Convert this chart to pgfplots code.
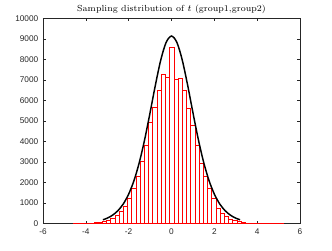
\documentclass[border=0pt]{standalone}
\usepackage{pgfplots}
\pgfplotsset{compat=1.18}
\usepackage{fontspec}
\newfontfamily\arialfont{Liberation Sans}
\definecolor{axgray}{gray}{0.15}
\begin{document}
\begin{tikzpicture}
\begin{axis}[
  name=ax,
  scale only axis,
  width=192.75pt, height=153.75pt,
  xmin=-6, xmax=6, ymin=0, ymax=10000,
  xtick={-6,-4,...,6},
  ytick={0,1000,...,10000},
  tick align=inside,
  major tick length=2pt,
  axis line style={axgray, line width=0.4pt},
  tick style={axgray, line width=0.4pt},
  every tick label/.append style={text=axgray},
  ticklabel style={font=\arialfont\fontsize{6.2}{7}\selectfont},
  /pgf/number format/assume math mode=true,
  /pgf/number format/set thousands separator={},
  scaled y ticks=false,
  xticklabel style={yshift=0pt},
  title={Sampling distribution of $t$ (group1,group2)},
  title style={font=\fontsize{6.6}{8}\selectfont, yshift=-5.5pt},
]
\addplot[ybar interval, draw=red, fill=white, line width=0.4pt] coordinates {
(-4.603,5) (-4.406,8) (-4.210,12) (-4.014,20) (-3.818,30) (-3.622,45)
(-3.425,60) (-3.229,100) (-3.033,180) (-2.837,260) (-2.641,400) (-2.444,585)
(-2.248,850) (-2.052,1235) (-1.856,1720) (-1.660,2290) (-1.463,3060) (-1.267,3840)
(-1.071,4930) (-0.875,5660) (-0.679,6490) (-0.482,7300) (-0.286,7140) (-0.090,8585)
(0.106,7060) (0.302,7090) (0.499,6490) (0.695,5625) (0.891,4815) (1.087,3840)
(1.283,2940) (1.480,2325) (1.676,1720) (1.872,1235) (2.068,746) (2.264,500)
(2.461,340) (2.657,230) (2.853,150) (3.049,100) (3.245,60) (3.442,40)
(3.638,28) (3.834,18) (4.030,12) (4.226,8) (4.423,5) (4.619,4)
(4.815,3) (5.011,2) (5.207,2)
};
\addplot[black, line width=1.1pt, smooth] coordinates {
(-3.2,189) (-3.0,266) (-2.75,413) (-2.5,634) (-2.25,962) (-2.0,1440)
(-1.75,2105) (-1.5,2997) (-1.25,4117) (-1.0,5417) (-0.75,6771) (-0.5,7988)
(-0.25,8842) (0,9150) (0.25,8842) (0.5,7988) (0.75,6771) (1.0,5417)
(1.25,4117) (1.5,2997) (1.75,2105) (2.0,1440) (2.25,962) (2.5,634)
(2.75,413) (3.0,266) (3.2,189)
};
\end{axis}
\path ([xshift=-32.25pt,yshift=-20.25pt]ax.south west) rectangle ([xshift=24pt,yshift=12.75pt]ax.north east);
\end{tikzpicture}
\end{document}
